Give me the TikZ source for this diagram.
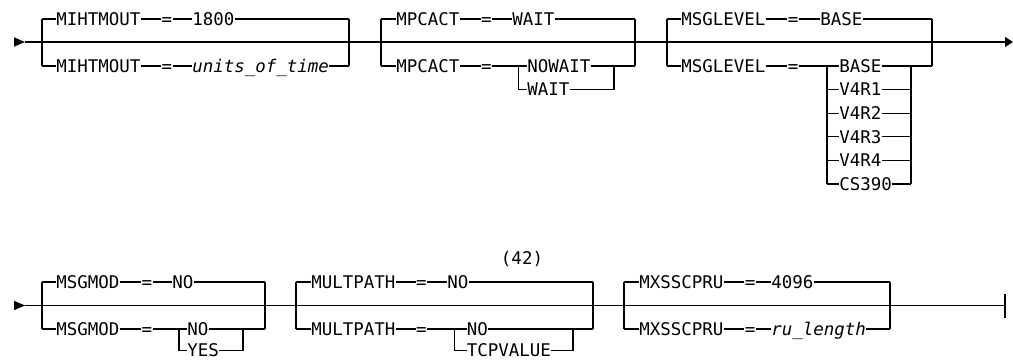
\documentclass[tikz,border=0pt]{standalone}
\usepackage{fontspec}
\setmonofont{DejaVu Sans Mono}
\usetikzlibrary{arrows.meta}
\newcommand{\railfont}{\ttfamily\fontsize{13.1}{15}\selectfont}
\tikzset{
  rail/.style={line width=0.8pt},
  tok/.style={anchor=west, inner sep=0pt, text height=9.5pt, text depth=0pt, font=\railfont},
  eqsign/.style={tok, anchor=center},
  var/.style={tok, font=\railfont\itshape}
}
% the two bars of a choice, corners named tl, bl, tr, br
\newcommand{\drawchoice}[5]{
  \coordinate (#1tl) at (#2,#4); \coordinate (#1bl) at (#2,#5);
  \coordinate (#1tr) at (#3,#4); \coordinate (#1br) at (#3,#5);
  \draw[rail] (#1tl)--(#1bl); \draw[rail] (#1tr)--(#1br);
}
% keyword and equals sign
\newcommand{\keyeq}[5]{
  \node[tok] (#1k) at (#2,#3) {#4};
  \node[eqsign] (#1e) at (#5,#3) {=};
  \draw[rail] (#1k)--(#1e);
}
% stacked values: name, x left bar, x text, x right bar, y first, row gap, list
\newcommand{\drawsub}[7]{
  \foreach \v [count=\i from 0] in {#7}{
    \coordinate (#1l\i) at (#2,#5+#6*\i);
    \coordinate (#1r\i) at (#4,#5+#6*\i);
    \node[tok] (#1\i) at (#3,#5+#6*\i) {\v};
    \draw[rail] (#1l\i)--(#1\i)--(#1r\i);
    \ifnum\i>0 \draw[rail] (#1l\i)--++(0,-#6) (#1r\i)--++(0,-#6); \fi
  }
}

\begin{document}
\begin{tikzpicture}[x=0.75pt,y=-0.75pt]
\useasboundingbox (0,0) rectangle (1013,360);
% first line
\coordinate (s1) at (25,42); \coordinate (e1) at (1013,42);
\fill (s1)--++(-11,-4.7)--++(0,9.4)--cycle;
\draw[rail,-{Triangle[length=6pt,width=7.5pt]}] (s1)--(e1);

\drawchoice{a}{42}{349}{19}{66}
\keyeq{aT}{56}{19}{MIHTMOUT}{167}
\node[tok] (aTv) at (192,19) {1800};
\draw[rail] (atl)--(aTk) (aTe)--(aTv)--(atr);
\keyeq{aB}{56}{66}{MIHTMOUT}{167}
\node[var] (aBv) at (192,66) {units\_of\_time};
\draw[rail] (abl)--(aBk) (aBe)--(aBv)--(abr);

\drawchoice{b}{381}{635}{19}{66}
\keyeq{bT}{396}{19}{MPCACT}{486.5}
\node[tok] (bTv) at (512,19) {WAIT};
\draw[rail] (btl)--(bTk) (bTe)--(bTv)--(btr);
\keyeq{bB}{396}{66}{MPCACT}{486.5}
\drawsub{bs}{518.5}{527}{614}{66}{23.6}{NOWAIT,WAIT}
\draw[rail] (bbl)--(bBk) (bBe)--(bsl0) (bsr0)--(bbr);

\drawchoice{c}{667}{932}{19}{66}
\keyeq{cT}{681}{19}{MSGLEVEL}{793}
\node[tok] (cTv) at (820,19) {BASE};
\draw[rail] (ctl)--(cTk) (cTe)--(cTv)--(ctr);
\keyeq{cB}{681}{66}{MSGLEVEL}{793}
\drawsub{cs}{827}{839}{911}{66}{23.6}{BASE,V4R1,V4R2,V4R3,V4R4,CS390}
\draw[rail] (cbl)--(cBk) (cBe)--(csl0) (csr0)--(cbr);

% second line
\coordinate (s2) at (25,305.5); \coordinate (e2) at (1005,305.5);
\fill (s2)--++(-11,-4.7)--++(0,9.4)--cycle;
\draw[rail] (s2)--(e2) (e2)++(0,-12)--++(0,24);

\drawchoice{d}{42}{265}{282}{329}
\keyeq{dT}{56}{282}{MSGMOD}{147}
\node[tok] (dTv) at (172,282) {NO};
\draw[rail] (dtl)--(dTk) (dTe)--(dTv)--(dtr);
\keyeq{dB}{56}{329}{MSGMOD}{147}
\drawsub{ds}{179}{187}{243}{329}{21.5}{NO,YES}
\draw[rail] (dbl)--(dBk) (dBe)--(dsl0) (dsr0)--(dbr);

\drawchoice{e}{296}{593}{282}{329}
\node[tok,anchor=center] (note) at (522,258) {(42)};
\keyeq{eT}{311}{282}{MULTPATH}{421.5}
\node[tok] (eTv) at (447,282) {NO};
\draw[rail] (etl)--(eTk) (eTe)--(eTv)--(etr);
\keyeq{eB}{311}{329}{MULTPATH}{421.5}
\drawsub{es}{454.5}{466.5}{573}{329}{21.5}{NO,TCPVALUE}
\draw[rail] (ebl)--(eBk) (eBe)--(esl0) (esr0)--(ebr);

\drawchoice{f}{624}{890}{282}{329}
\keyeq{fT}{639}{282}{MXSSCPRU}{750}
\node[tok] (fTv) at (771,282) {4096};
\draw[rail] (ftl)--(fTk) (fTe)--(fTv)--(ftr);
\keyeq{fB}{639}{329}{MXSSCPRU}{750}
\node[var] (fBv) at (771,329) {ru\_length};
\draw[rail] (fbl)--(fBk) (fBe)--(fBv)--(fbr);
\end{tikzpicture}
\end{document}
